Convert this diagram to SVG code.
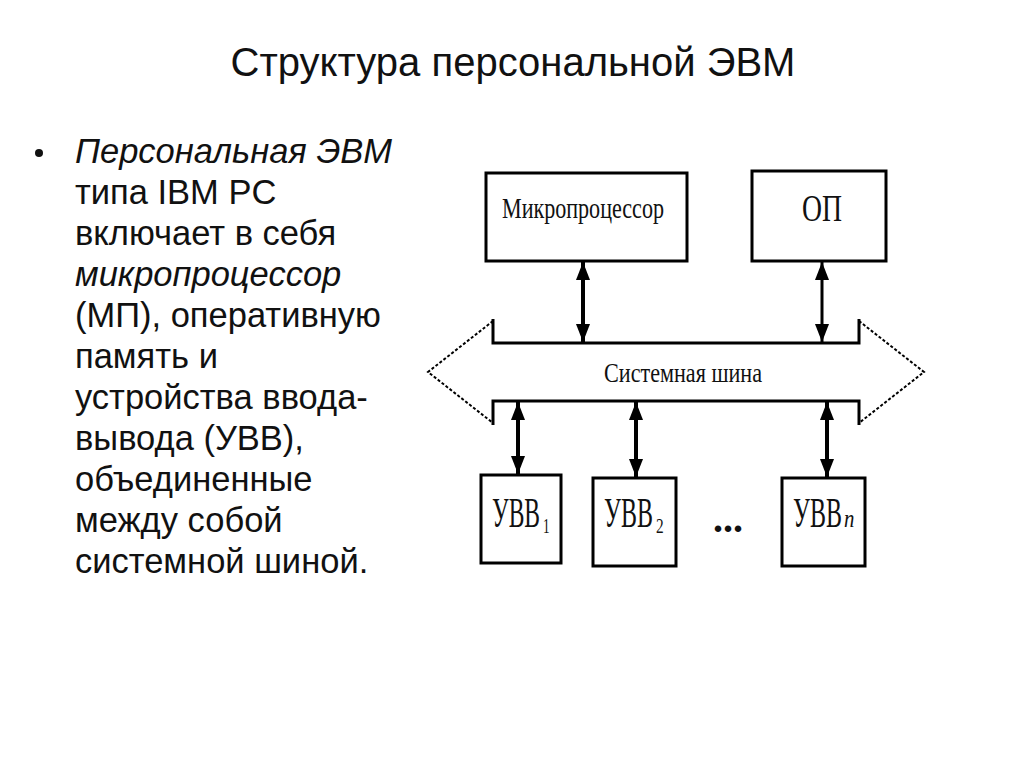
<svg xmlns="http://www.w3.org/2000/svg" width="1024" height="767" viewBox="0 0 1024 767">
<defs>
<marker id="ah" viewBox="0 0 18 14" refX="18" refY="7" markerWidth="18" markerHeight="14" markerUnits="userSpaceOnUse" orient="auto-start-reverse">
<path d="M0,0 L18,7 L0,14 Z" fill="#000"/>
</marker>
<style>
.t{font-family:"Liberation Sans",Arial,sans-serif;fill:#111}
.d{font-family:"Liberation Serif","Times New Roman",serif;fill:#111}
.box{fill:#fff;stroke:#000;stroke-width:3}
.ar{stroke:#000;stroke-width:4;fill:none;marker-start:url(#ah);marker-end:url(#ah)}
</style>
</defs>
<rect width="1024" height="767" fill="#fff"/>
<text class="t" x="513" y="76" font-size="40" text-anchor="middle">Структура персональной ЭВМ</text>
<g id="text">
<circle cx="39" cy="153" r="4" fill="#111"/>
<text class="t" font-size="34.5" x="75">
<tspan x="75" y="163" font-style="italic">Персональная ЭВМ</tspan>
<tspan x="75" y="204">типа IBM PC</tspan>
<tspan x="75" y="245">включает в себя</tspan>
<tspan x="75" y="286" font-style="italic">микропроцессор</tspan>
<tspan x="75" y="327">(МП), оперативную</tspan>
<tspan x="75" y="368">память и</tspan>
<tspan x="75" y="409">устройства ввода-</tspan>
<tspan x="75" y="450">вывода (УВВ),</tspan>
<tspan x="75" y="491">объединенные</tspan>
<tspan x="75" y="532">между собой</tspan>
<tspan x="75" y="573">системной шиной.</tspan>
</text>
</g>
<g id="bus">
<path d="M493,319 L493,343 L859,343 L859,319 M493,425 L493,401 L859,401 L859,425" fill="none" stroke="#000" stroke-width="3"/>
<path d="M493,321 L428,372 L493,423 M859,321 L924,372 L859,423" fill="none" stroke="#000" stroke-width="2" stroke-dasharray="3,2"/>
<text class="d" x="683" y="382" font-size="28" text-anchor="middle" textLength="158" lengthAdjust="spacingAndGlyphs">Системная шина</text>
</g>
<g id="mp">
<rect class="box" x="486" y="173" width="201" height="88"/>
<text class="d" x="583" y="218" font-size="30" text-anchor="middle" textLength="162" lengthAdjust="spacingAndGlyphs">Микропроцессор</text>
</g>
<g id="op">
<rect class="box" x="752" y="171" width="134" height="90"/>
<text class="d" x="822" y="221" font-size="38" text-anchor="middle" textLength="40" lengthAdjust="spacingAndGlyphs">ОП</text>
</g>
<g id="uvv1">
<rect class="box" x="481" y="475" width="80" height="88"/>
<text class="d" transform="translate(492,527) scale(0.56,1)" font-size="42">УВВ</text>
<text class="d" transform="translate(543,533) scale(0.6,1)" font-size="22">1</text>
</g>
<g id="uvv2">
<rect class="box" x="593" y="478" width="83" height="88"/>
<text class="d" transform="translate(604,527) scale(0.57,1)" font-size="42">УВВ</text>
<text class="d" transform="translate(656,533) scale(0.7,1)" font-size="22">2</text>
</g>
<text class="d" x="728" y="532" font-size="40" font-weight="bold" text-anchor="middle">...</text>
<g id="uvvn">
<rect class="box" x="782" y="478" width="83" height="88"/>
<text class="d" transform="translate(793,527) scale(0.57,1)" font-size="42">УВВ</text>
<text class="d" transform="translate(844,527) scale(0.8,1)" font-size="26" font-style="italic">n</text>
</g>
<g id="connectors">
<line class="ar" x1="583" y1="262" x2="583" y2="342"/>
<line class="ar" x1="822" y1="262" x2="822" y2="342" style="stroke-width:3"/>
<line class="ar" x1="518" y1="402" x2="518" y2="474"/>
<line class="ar" x1="636" y1="402" x2="636" y2="477"/>
<line class="ar" x1="827" y1="402" x2="827" y2="477"/>
</g>
</svg>
